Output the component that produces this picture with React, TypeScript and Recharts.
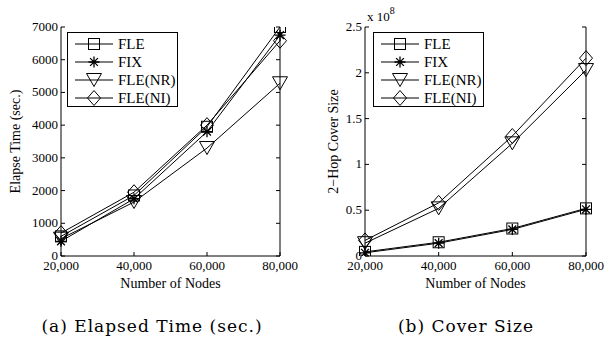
import type { ReactElement } from 'react'
import { Label, Line, LineChart, XAxis, YAxis } from 'recharts'

const nodes = [20000, 40000, 60000, 80000]
const nodeTicks = [20000, 40000, 60000, 80000]

const timeFLE = [600, 1850, 3950, 7000]
const timeFIX = [450, 1750, 3800, 6750]
const timeNR = [530, 1650, 3300, 5280]
const timeNI = [700, 1950, 4000, 6580]
const timeTicks = [0, 1000, 2000, 3000, 4000, 5000, 6000, 7000]

// cover size in units of 1e8
const coverFLE = [0.045, 0.15, 0.3, 0.52]
const coverFIX = [0.035, 0.14, 0.29, 0.51]
const coverNR = [0.14, 0.52, 1.23, 2.03]
const coverNI = [0.17, 0.58, 1.31, 2.16]
const coverTicks = [0, 0.5, 1, 1.5, 2, 2.5]

const seriesNames = ['FLE', 'FIX', 'FLE(NR)', 'FLE(NI)']
const seriesShapes = ['square', 'star', 'triangle', 'diamond']

const SERIF = '"Liberation Serif", "Times New Roman", serif'
const CAPTION = '"DejaVu Serif", serif'

function buildRows(cols: number[][]) {
  return nodes.map((n, i) => {
    const row: Record<string, number> = { n }
    seriesNames.forEach((name, k) => {
      row[name] = cols[k][i]
    })
    return row
  })
}

const timeRows = buildRows([timeFLE, timeFIX, timeNR, timeNI])
const coverRows = buildRows([coverFLE, coverFIX, coverNR, coverNI])

function Marker({ shape, cx, cy }: { shape: string; cx: number; cy: number }) {
  const p = { fill: 'none', stroke: '#000', strokeWidth: 1 }
  if (shape === 'square') return <rect x={cx - 5.5} y={cy - 5.5} width={11} height={11} {...p} />
  if (shape === 'triangle')
    return <path d={`M${cx - 7.5},${cy - 6.5}L${cx + 7.5},${cy - 6.5}L${cx},${cy + 6.5}Z`} {...p} />
  if (shape === 'diamond')
    return <path d={`M${cx},${cy - 7.5}L${cx + 6.5},${cy}L${cx},${cy + 7.5}L${cx - 6.5},${cy}Z`} {...p} />
  const r = 5.5
  const d = r * 0.707
  return (
    <path
      d={`M${cx - r},${cy}L${cx + r},${cy}M${cx},${cy - r}L${cx},${cy + r}M${cx - d},${cy - d}L${cx + d},${cy + d}M${cx - d},${cy + d}L${cx + d},${cy - d}`}
      {...p}
      strokeWidth={1.3}
    />
  )
}

const fmtNodes = (v: number) => v.toLocaleString('en-US')

function BottomTick({ x, y, payload }: any) {
  return (
    <g>
      <line x1={x} y1={y} x2={x} y2={y - 4} stroke="#000" />
      <text x={x} y={y + 14} textAnchor="middle" fontSize={13} fontFamily={SERIF} fill="#000">
        {fmtNodes(payload.value)}
      </text>
    </g>
  )
}

function TopTick({ x, y }: any) {
  return <line x1={x} y1={y} x2={x} y2={y + 4} stroke="#000" />
}

function LeftTick({ x, y, payload }: any) {
  return (
    <g>
      <line x1={x} y1={y} x2={x + 4} y2={y} stroke="#000" />
      <text x={x - 3} y={y + 4} textAnchor="end" fontSize={13} fontFamily={SERIF} fill="#000">
        {payload.value}
      </text>
    </g>
  )
}

function RightTick({ x, y }: any) {
  return <line x1={x} y1={y} x2={x - 4} y2={y} stroke="#000" />
}

function LegendBox({ left, top }: { left: number; top: number }) {
  return (
    <div
      style={{
        position: 'absolute',
        left,
        top,
        width: 111,
        height: 75,
        border: '1px solid #000',
        background: '#fff',
        boxSizing: 'border-box',
      }}
    >
      <svg width={111} height={75} style={{ position: 'absolute', left: -1, top: -1 }}>
        {seriesNames.map((name, i) => {
          const cy = 12 + i * 18
          return (
            <g key={name}>
              <line x1={8} y1={cy} x2={46} y2={cy} stroke="#000" />
              <Marker shape={seriesShapes[i]} cx={27} cy={cy} />
              <text x={51} y={cy + 5} fontSize={15} fontFamily={SERIF} fill="#000">
                {name}
              </text>
            </g>
          )
        })}
      </svg>
    </div>
  )
}

type PanelProps = {
  rows: Record<string, number>[]
  yDomain: [number, number]
  yTicks: number[]
  yTitle: string
  yAxisWidth: number
  rightWidth: number
  yTitleX: number
  exponent?: boolean
}

function Panel({ rows, yDomain, yTicks, yTitle, yAxisWidth, rightWidth, yTitleX, exponent }: PanelProps) {
  return (
    <LineChart width={303} height={300} data={rows} margin={{ top: 27, right: 0, bottom: 0, left: 0 }}>
      <XAxis
        dataKey="n"
        type="number"
        domain={[20000, 80000]}
        ticks={nodeTicks}
        height={44}
        tickSize={0}
        tickMargin={0}
        tickLine={false}
        axisLine={{ stroke: '#000' }}
        tick={<BottomTick />}
        interval={0}
      >
        <Label
          content={({ viewBox }: any) => (
            <text
              x={viewBox.x + viewBox.width / 2}
              y={viewBox.y + 32}
              textAnchor="middle"
              fontSize={14}
              fontFamily={SERIF}
              fill="#000"
            >
              Number of Nodes
            </text>
          )}
        />
      </XAxis>
      <XAxis
        xAxisId="top"
        orientation="top"
        dataKey="n"
        type="number"
        domain={[20000, 80000]}
        ticks={nodeTicks}
        height={0}
        tickSize={0}
        tickMargin={0}
        tickLine={false}
        axisLine={{ stroke: '#000' }}
        tick={<TopTick />}
        interval={0}
        allowDataOverflow
      />
      <YAxis
        type="number"
        domain={yDomain}
        ticks={yTicks}
        width={yAxisWidth}
        tickSize={0}
        tickMargin={0}
        tickLine={false}
        axisLine={{ stroke: '#000' }}
        tick={<LeftTick />}
        interval={0}
        allowDataOverflow
      >
        <Label
          content={({ viewBox }: any) => {
            const cx = yTitleX
            const cy = viewBox.y + viewBox.height / 2
            return (
              <text
                x={cx}
                y={cy}
                transform={`rotate(-90 ${cx} ${cy})`}
                textAnchor="middle"
                dominantBaseline="central"
                fontSize={14}
                fontFamily={SERIF}
                fill="#000"
              >
                {yTitle}
              </text>
            )
          }}
        />
        {exponent ? (
          <Label
            content={({ viewBox }: any) => (
              <text x={viewBox.x + viewBox.width + 2} y={21} fontSize={13} fontFamily={SERIF} fill="#000">
                x 10
                <tspan dy={-7} fontSize={10}>
                  8
                </tspan>
              </text>
            )}
          />
        ) : null}
      </YAxis>
      <YAxis
        yAxisId="right"
        orientation="right"
        type="number"
        domain={yDomain}
        ticks={yTicks}
        width={rightWidth}
        tickSize={0}
        tickMargin={0}
        tickLine={false}
        axisLine={{ stroke: '#000' }}
        tick={<RightTick />}
        interval={0}
        allowDataOverflow
      />
      {seriesNames.map((name, i) => (
        <Line
          key={name}
          dataKey={name}
          stroke="#000"
          strokeWidth={1}
          isAnimationActive={false}
          dot={(p: any) => <Marker key={`${name}-${p.index}`} shape={seriesShapes[i]} cx={p.cx} cy={p.cy} />}
          activeDot={false}
        />
      ))}
    </LineChart>
  )
}

function Caption({ x, children }: { x: number; children: ReactElement | string }) {
  return (
    <div
      style={{
        position: 'absolute',
        left: x - 150,
        width: 300,
        top: 315,
        textAlign: 'center',
        fontFamily: CAPTION,
        fontSize: 17,
        letterSpacing: 1,
        lineHeight: '22px',
        color: '#000',
      }}
    >
      {children}
    </div>
  )
}

export default function App() {
  return (
    <div style={{ position: 'absolute', left: 0, top: 0, width: 606, height: 341, background: '#fff', overflow: 'hidden' }}>
      <div style={{ position: 'absolute', left: 0, top: 0 }}>
        <Panel
          rows={timeRows}
          yDomain={[0, 7000]}
          yTicks={timeTicks}
          yTitle="Elapse Time (sec.)"
          yAxisWidth={61}
          rightWidth={23}
          yTitleX={15}
        />
        <LegendBox left={67} top={32} />
      </div>
      <div style={{ position: 'absolute', left: 303, top: 0 }}>
        <Panel
          rows={coverRows}
          yDomain={[0, 2.5]}
          yTicks={coverTicks}
          yTitle="2−Hop Cover Size"
          yAxisWidth={62}
          rightWidth={20}
          yTitleX={30}
          exponent
        />
        <LegendBox left={70} top={32} />
      </div>
      <Caption x={152}>(a) Elapsed Time (sec.)</Caption>
      <Caption x={466}>(b) Cover Size</Caption>
    </div>
  )
}
